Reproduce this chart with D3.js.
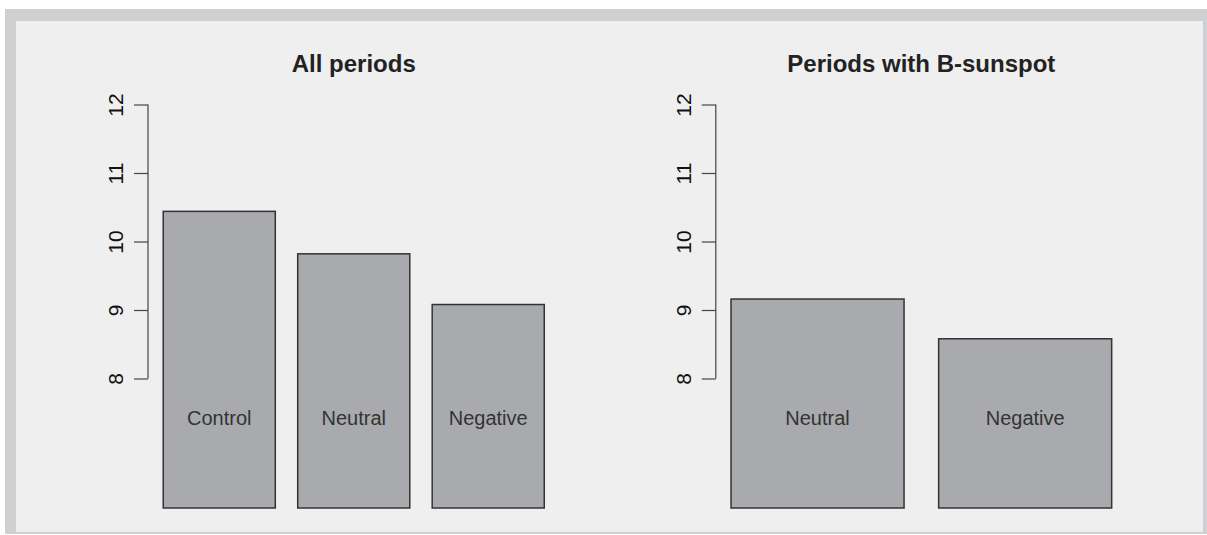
<!DOCTYPE html>
<html><head><meta charset="utf-8">
<script src="https://cdn.jsdelivr.net/npm/d3@7"></script>
<style>html,body{margin:0;padding:0;background:#fff;}svg{display:block;font-family:"Liberation Sans",Arial,sans-serif;}</style>
</head><body>
<script>
// Data
const titles = ["All periods", "Periods with B-sunspot"];
const catsAll = ["Control", "Neutral", "Negative"];
const valsAll = [10.44, 9.82, 9.08];
const catsB = ["Neutral", "Negative"];
const valsB = [9.16, 8.58];
const yTicks = [8, 9, 10, 11, 12];

const W = 1207, H = 535;
const svg = d3.select("body").append("svg").attr("width", W).attr("height", H);
svg.append("rect").attr("x", 5).attr("y", 9).attr("width", 1202).attr("height", 525).attr("fill", "#cfd0d2");
svg.append("rect").attr("x", 16).attr("y", 21).attr("width", 1187).attr("height", 511).attr("fill", "#efefef");

const y = d3.scaleLinear().domain([8, 12]).range([378.5, 104.5]);
const barBottom = 508;

function panel(title, cats, vals, x0, x1) {
  const n = cats.length;
  const lo = 0.2, hi = 0.2 + n * 1.2 - 0.2;
  const ext = (hi - lo) * 0.04;
  const x = d3.scaleLinear().domain([lo - ext, hi + ext]).range([x0, x1]);
  const g = svg.append("g");
  g.selectAll("rect.bar").data(vals).enter().append("rect")
    .attr("class", "bar")
    .attr("x", (d, i) => x(0.2 + i * 1.2))
    .attr("width", (d, i) => x(1.2 + i * 1.2) - x(0.2 + i * 1.2))
    .attr("y", d => y(d))
    .attr("height", d => barBottom - y(d))
    .attr("fill", "#a9aaad").attr("stroke", "#333").attr("stroke-width", 1.5);
  g.selectAll("text.lab").data(cats).enter().append("text")
    .attr("x", (d, i) => x(0.7 + i * 1.2)).attr("y", 425)
    .attr("text-anchor", "middle").attr("font-size", 20).attr("fill", "#333")
    .text(d => d);
  // y axis
  const axis = d3.axisLeft(y).tickValues(yTicks).tickSize(14).tickSizeOuter(0).tickFormat(d3.format("d"));
  const ag = g.append("g").attr("transform", `translate(${x(lo - ext)},0)`).call(axis);
  ag.select(".domain").attr("stroke", "#444").attr("stroke-width", 1.2).attr("d", `M0,${y(8)}V${y(12)}`);
  ag.selectAll(".tick line").attr("stroke", "#444").attr("stroke-width", 1.2);
  ag.selectAll(".tick text").attr("x", 0).attr("y", 0).attr("dy", null)
    .attr("transform", "translate(-25,0) rotate(-90)")
    .attr("text-anchor", "middle").attr("font-size", 21).attr("fill", "#111")
    .attr("font-family", "Liberation Sans, Arial, sans-serif");
  g.append("text").attr("x", (x0 + x1) / 2).attr("y", 72)
    .attr("text-anchor", "middle").attr("font-size", 24).attr("font-weight", "bold").attr("fill", "#222")
    .text(title);
}
panel(titles[0], catsAll, valsAll, 148, 559.5);
panel(titles[1], catsB, valsB, 715.8, 1126.9);
</script>
</body></html>
